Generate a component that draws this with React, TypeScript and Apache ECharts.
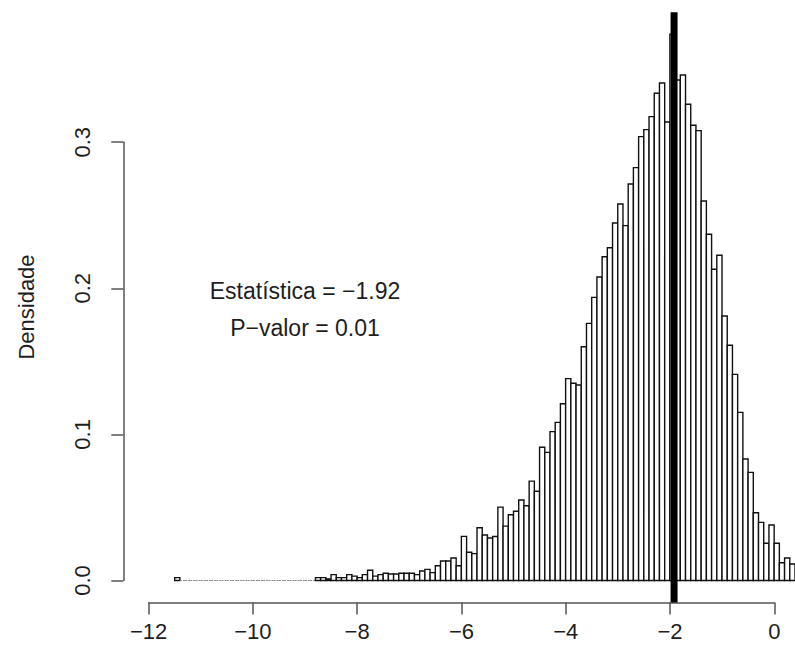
import React, { useEffect, useRef } from "react";
import * as echarts from "echarts";

// Histogram bins: regular breaks of width 0.1 starting at -11.5
const binStart = -11.5;
const binWidth = 0.1;
const densities = [
  0.002,
  0, 0, 0, 0, 0, 0, 0, 0, 0, 0, 0, 0, 0, 0, 0, 0, 0, 0, 0, 0, 0, 0, 0, 0, 0, 0,
  0.002, 0.002, 0.001, 0.004, 0.002, 0.002, 0.004, 0.003, 0.002, 0.004,
  0.007, 0.003, 0.004, 0.005, 0.0045, 0.0045, 0.005, 0.005, 0.005, 0.004,
  0.0065, 0.0076, 0.0054, 0.0101, 0.0133, 0.0133, 0.0154, 0.0101, 0.0302, 0.0193,
  0.0184, 0.0361, 0.0311, 0.0291, 0.0301, 0.0502, 0.0372, 0.045, 0.0474, 0.0551,
  0.0512, 0.068, 0.0611, 0.0912, 0.0877, 0.1019, 0.1082, 0.121, 0.1382, 0.135,
  0.1338, 0.16, 0.176, 0.1938, 0.2077, 0.2216, 0.2278, 0.2447, 0.2577, 0.2429,
  0.2714, 0.2826, 0.3038, 0.3086, 0.3175, 0.3335, 0.3405, 0.3138, 0.374, 0.3426,
  0.346, 0.326, 0.3116, 0.3079, 0.2598, 0.237, 0.213, 0.2226, 0.181, 0.161,
  0.1411, 0.1151, 0.0832, 0.074, 0.0464, 0.0398, 0.0255, 0.038, 0.0255, 0.0122,
  0.0154, 0.0113,
];
const xTicks = [-12, -10, -8, -6, -4, -2, 0];
const yTicks = [0, 0.1, 0.2, 0.3];
const statistic = -1.92;
const pValue = 0.01;
const yLabel = "Densidade";

const fmtNum = (v: number, digits = 0) =>
  (v < 0 ? "\u2212" : "") + Math.abs(v).toFixed(digits);

const annotationX = [-9, -9];
const annotationY = [0.198, 0.173];
const annotationText = [
  `Estatística = ${fmtNum(statistic, 2)}`,
  `P\u2212valor = ${pValue.toFixed(2)}`,
];

// layout (pixels)
const X0PX = 148.6; // x = -12
const PXX = 52.14; // px per x unit
const Y0PX = 580.5; // y = 0
const PXY = 1461; // px per y unit
const XMAX = 0.4;
const YMAX = 0.389;
const YMIN = -0.015;

const FONT = "'Liberation Sans', Arial, Helvetica, sans-serif";
const AXIS_COLOR = "#555";
const TEXT_COLOR = "#1e1e1e";

export default function App() {
  const ref = useRef<HTMLDivElement>(null);
  useEffect(() => {
    if (!ref.current) return;
    const chart = echarts.init(ref.current, undefined, { renderer: "svg" });
    const histData = densities.map((d, i) => [
      binStart + i * binWidth,
      binStart + (i + 1) * binWidth,
      d,
    ]);
    const annData = annotationText.map((t, i) => [annotationX[i], annotationY[i], i]);
    const xFirst = xTicks[0];
    const xLast = xTicks[xTicks.length - 1];
    const yFirst = yTicks[0];
    const yLast = yTicks[yTicks.length - 1];
    const dataTop = Y0PX - YMAX * PXY;
    const dataBottom = Y0PX - YMIN * PXY;

    const option: any = {
      animation: false,
      textStyle: { fontFamily: FONT },
      grid: [
        {
          left: X0PX,
          top: dataTop,
          width: (XMAX - xFirst) * PXX,
          height: dataBottom - dataTop,
        },
        {
          left: X0PX,
          top: dataBottom - 10,
          width: (xLast - xFirst) * PXX,
          height: 10,
        },
        {
          left: X0PX - 25.3,
          top: Y0PX - yLast * PXY,
          width: 20,
          height: (yLast - yFirst) * PXY,
        },
      ],
      xAxis: [
        { gridIndex: 0, type: "value", min: xFirst, max: XMAX, show: false },
        {
          gridIndex: 1,
          type: "value",
          min: xFirst,
          max: xLast,
          interval: 2,
          position: "bottom",
          axisLine: { show: true, lineStyle: { color: AXIS_COLOR, width: 1.5 } },
          axisTick: { show: true, length: 12, lineStyle: { color: AXIS_COLOR, width: 1.5 } },
          splitLine: { show: false },
          axisLabel: {
            margin: 18,
            fontSize: 22,
            color: TEXT_COLOR,
            fontFamily: FONT,
            formatter: (v: number) => fmtNum(v, 0),
          },
        },
        { gridIndex: 2, type: "value", show: false },
      ],
      yAxis: [
        { gridIndex: 0, type: "value", min: YMIN, max: YMAX, show: false },
        { gridIndex: 1, type: "value", show: false },
        {
          gridIndex: 2,
          type: "value",
          min: yFirst,
          max: yLast,
          interval: 0.1,
          position: "left",
          axisLine: { show: true, lineStyle: { color: AXIS_COLOR, width: 1.5 } },
          axisTick: { show: true, length: 12, lineStyle: { color: AXIS_COLOR, width: 1.5 } },
          splitLine: { show: false },
          axisLabel: {
            rotate: 90,
            margin: 30,
            fontSize: 22,
            color: TEXT_COLOR,
            fontFamily: FONT,
            formatter: (v: number) => v.toFixed(1),
          },
        },
      ],
      graphic: [
        {
          type: "text",
          x: 26,
          y: 307,
          rotation: Math.PI / 2,
          style: {
            text: yLabel,
            fontSize: 22,
            fontFamily: FONT,
            fill: TEXT_COLOR,
            align: "center",
            verticalAlign: "middle",
          },
        },
      ],
      series: [
        {
          type: "custom",
          xAxisIndex: 0,
          yAxisIndex: 0,
          data: histData,
          encode: { x: [0, 1], y: 2 },
          clip: true,
          renderItem: (params: any, api: any) => {
            const x0 = api.value(0);
            const x1 = api.value(1);
            const h = api.value(2);
            const p0 = api.coord([x0, h]);
            const p1 = api.coord([x1, 0]);
            if (h === 0) {
              return {
                type: "line",
                shape: { x1: p0[0], y1: p1[1], x2: p1[0], y2: p1[1] },
                style: { stroke: "#888", lineWidth: 1, lineDash: [2, 1] },
              };
            }
            return {
              type: "rect",
              shape: {
                x: p0[0],
                y: p0[1],
                width: p1[0] - p0[0],
                height: p1[1] - p0[1],
              },
              style: { fill: "#fff", stroke: "#111", lineWidth: 1.4 },
            };
          },
          z: 2,
        },
        {
          type: "line",
          xAxisIndex: 0,
          yAxisIndex: 0,
          data: [
            [statistic, YMIN],
            [statistic, YMAX],
          ],
          symbol: "none",
          lineStyle: { color: "#000", width: 7, cap: "butt" },
          z: 5,
        },
        {
          type: "custom",
          xAxisIndex: 0,
          yAxisIndex: 0,
          data: annData,
          encode: { x: 0, y: 1 },
          clip: false,
          renderItem: (params: any, api: any) => {
            const p = api.coord([api.value(0), api.value(1)]);
            const idx = api.value(2);
            return {
              type: "text",
              x: p[0],
              y: p[1],
              style: {
                text: annotationText[idx],
                fontSize: 23,
                fontFamily: FONT,
                fill: TEXT_COLOR,
                align: "center",
                verticalAlign: "middle",
              },
            };
          },
          z: 6,
        },
      ],
    };
    chart.setOption(option);
    return () => chart.dispose();
  }, []);
  return (
    <div
      ref={ref}
      style={{
        position: "fixed",
        left: 0,
        top: 0,
        width: 795,
        height: 657,
        background: "#fff",
      }}
    />
  );
}
